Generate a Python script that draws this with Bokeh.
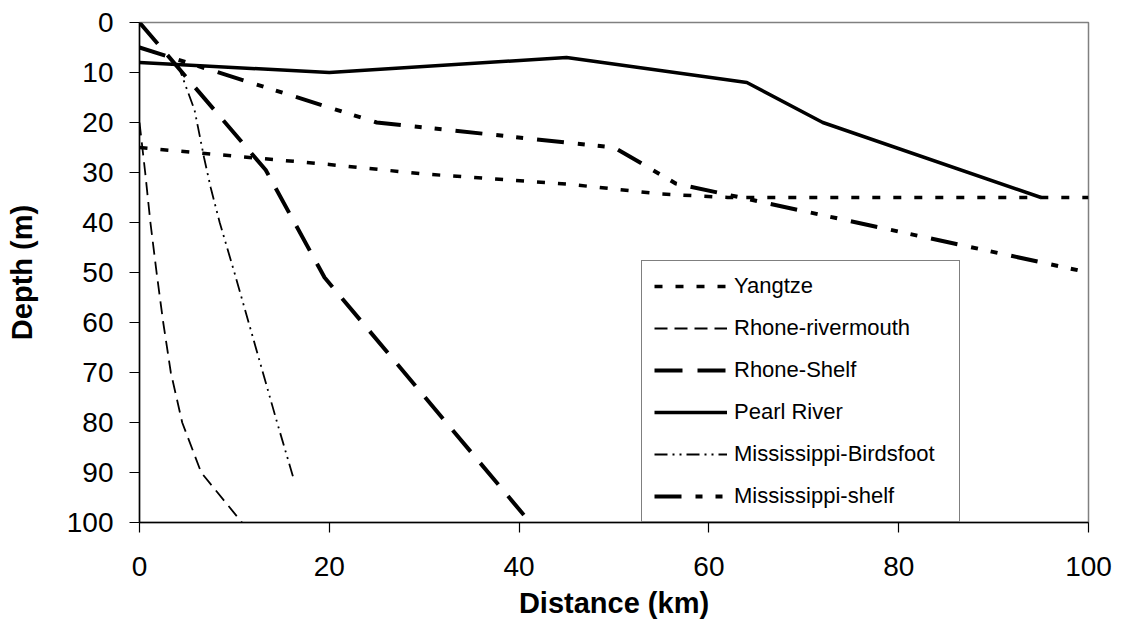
from bokeh.plotting import figure
from bokeh.models import Range1d, FixedTicker, Legend, LegendItem
from bokeh.embed import file_html
from bokeh.resources import INLINE

# ---- data (distance km, depth m) ----
yangtze_x = [0, 7.5, 20, 30, 45, 55, 62, 100]
yangtze_y = [25, 26.3, 28.4, 30.3, 32.3, 34.3, 35, 35]

rhone_mouth_x = [0, 0.6, 1.15, 1.8, 2.5, 3.3, 4.5, 6.5, 10.8]
rhone_mouth_y = [20, 30, 40, 50, 60, 70, 80, 90, 100]

rhone_shelf_x = [0, 13.3, 19.5, 40.5]
rhone_shelf_y = [0, 29.5, 51, 98.5]

pearl_x = [0, 20, 45, 64, 72, 95]
pearl_y = [8, 10, 7, 12, 20, 35]

miss_bird_x = [4.0, 5.8, 6.8, 7.5, 8.45, 10.0, 11.5, 13.0, 14.5, 16.2]
miss_bird_y = [8.2, 17.5, 27, 33, 40, 50, 60, 70, 80, 91]

miss_shelf_x = [0, 25, 50, 53, 56.5, 100]
miss_shelf_y = [5, 20, 25, 28.3, 32.2, 50]

x_ticks = [0, 20, 40, 60, 80, 100]
y_ticks = [0, 10, 20, 30, 40, 50, 60, 70, 80, 90, 100]

FONT = "Liberation Sans"

p = figure(width=1115, height=625, output_backend="svg", toolbar_location=None,
           x_range=Range1d(0, 100), y_range=Range1d(100, 0),
           min_border_left=139, min_border_right=27, min_border_top=22,
           min_border_bottom=103)
p.background_fill_color = "white"
p.border_fill_color = "white"
p.outline_line_color = "#808080"
p.outline_line_width = 1.5
p.xgrid.visible = False
p.ygrid.visible = False

series = [
    ("Yangtze", yangtze_x, yangtze_y, 3.5, "8 13"),
    ("Rhone-rivermouth", rhone_mouth_x, rhone_mouth_y, 1.8, "13 7"),
    ("Rhone-Shelf", rhone_shelf_x, rhone_shelf_y, 4, "28 15"),
    ("Pearl River", pearl_x, pearl_y, 3.5, "solid"),
    ("Mississippi-Birdsfoot", miss_bird_x, miss_bird_y, 1.8, "13 5 2 5 2 5"),
    ("Mississippi-shelf", miss_shelf_x, miss_shelf_y, 4, "27 14 7 13 7 14"),
]

items = []
for name, xs, ys, w, dash in series:
    r = p.line(xs, ys, line_color="black", line_width=w, line_dash=dash)
    items.append(LegendItem(label=name, renderers=[r]))

legend = Legend(items=items, location=(502, 0))
legend.label_text_font = FONT
legend.label_text_font_size = "22px"
legend.label_text_color = "black"
legend.glyph_width = 73
legend.glyph_height = 22
legend.label_height = 22
legend.label_width = 213
legend.label_standoff = 7
legend.spacing = 16
legend.padding = 12
legend.margin = 0
legend.border_line_color = "black"
legend.border_line_width = 1
legend.background_fill_color = "white"
legend.background_fill_alpha = 1
p.add_layout(legend, "center")

for ax in (p.xaxis[0], p.yaxis[0]):
    ax.axis_line_color = "black"
    ax.axis_line_width = 1.5
    ax.major_tick_line_color = "black"
    ax.major_tick_line_width = 1.2
    ax.major_tick_out = 10
    ax.major_tick_in = 0
    ax.minor_tick_out = 0
    ax.minor_tick_in = 0
    ax.major_label_text_font = FONT
    ax.major_label_text_font_size = "28px"
    ax.major_label_text_color = "black"
    ax.axis_label_text_font = FONT
    ax.axis_label_text_font_size = "29px"
    ax.axis_label_text_font_style = "bold"
    ax.axis_label_text_color = "black"

p.xaxis.ticker = FixedTicker(ticks=x_ticks)
p.yaxis.ticker = FixedTicker(ticks=y_ticks)
p.xaxis.axis_label = "Distance (km)"
p.yaxis.axis_label = "Depth (m)"
p.xaxis.major_label_standoff = 24
p.xaxis.axis_label_standoff = 8
p.yaxis.major_label_standoff = 16
p.yaxis.axis_label_standoff = 26

open("out.html", "w").write(file_html(p, INLINE))
